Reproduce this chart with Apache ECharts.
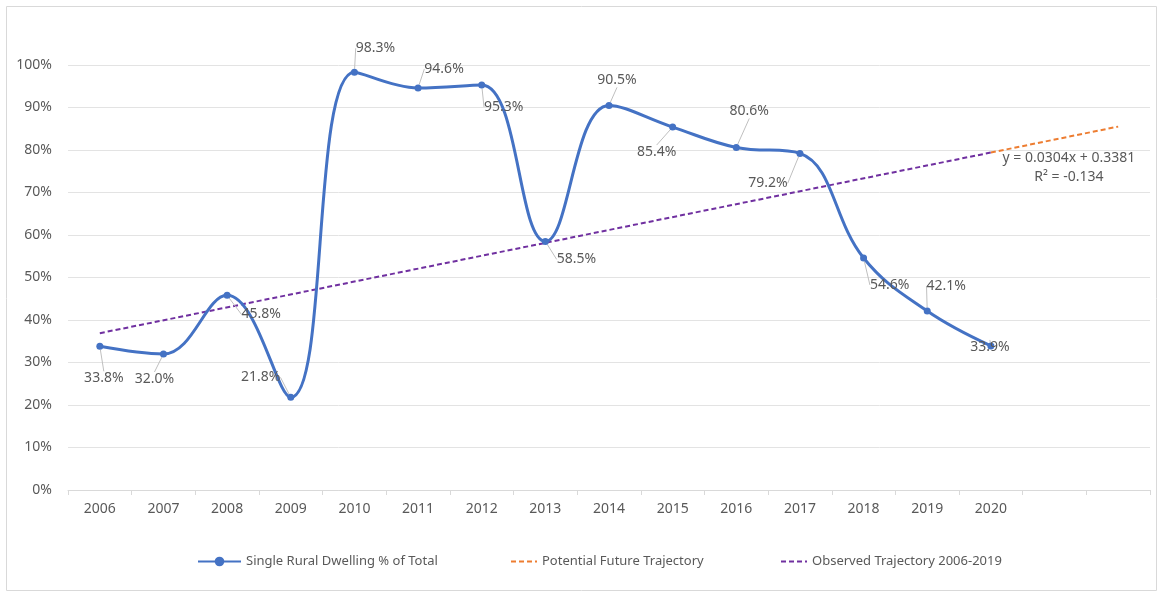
<!DOCTYPE html>
<html>
<head>
<meta charset="utf-8">
<script src="https://cdn.jsdelivr.net/npm/echarts@6/dist/echarts.min.js"></script>
<style>
  html, body { margin: 0; padding: 0; background: #fff; }
  #main { width: 1162px; height: 594px; }
</style>
</head>
<body>
<div id="main"></div>
<script>
// data
const years = ['2006', '2007', '2008', '2009', '2010', '2011', '2012', '2013', '2014',
    '2015', '2016', '2017', '2018', '2019', '2020', '', ' '];
const singleRural = [33.8, 32.0, 45.8, 21.8, 98.3, 94.6, 95.3, 58.5, 90.5, 85.4, 80.6, 79.2, 54.6, 42.1, 33.9];
// trendline end points (y = 0.0304x + 0.3381)
const observedTrend = [['2006', 36.9], ['2020', 79.4]];
const futureTrend = [['2020', 79.4], [' ', 85.5]];
const yTicks = [0, 10, 20, 30, 40, 50, 60, 70, 80, 90, 100];
const trendText = 'y = 0.0304x + 0.3381\nR² = -0.134';

// label nudges (px) so they sit like the original
const labelShift = [
    [4, 32], [-9, 25], [34, 19], [-30, -20], [21, -24], [26, -19], [22, 22], [31, 18],
    [8, -25], [-16, 25], [13, -36], [-32, 30], [26, 27], [19, -25], [-1, 1]
];

const font = '"Noto Sans", "Open Sans", sans-serif';
const grey = '#595959';
const legendText = { color: grey, fontSize: 13, fontFamily: font };

const chart = echarts.init(document.getElementById('main'));
chart.setOption({
    animation: false,
    textStyle: { fontFamily: font },
    graphic: [{
        type: 'rect',
        shape: { x: 6.5, y: 6.5, width: 1150, height: 584 },
        style: { fill: 'none', stroke: '#d9d9d9', lineWidth: 1 },
        silent: true
    }],
    grid: { left: 68, right: 12, top: 65, bottom: 104 },
    legend: [
        {
            left: 197, top: 555, padding: 0, itemGap: 4, itemWidth: 43, itemHeight: 12,
            textStyle: legendText,
            data: ['Single Rural Dwelling % of Total']
        },
        {
            left: 510, top: 555, padding: 0, itemWidth: 26, itemHeight: 12,
            textStyle: legendText,
            itemStyle: { opacity: 0 },
            data: ['Potential Future Trajectory']
        },
        {
            left: 780, top: 555, padding: 0, itemWidth: 26, itemHeight: 12,
            textStyle: legendText,
            itemStyle: { opacity: 0 },
            data: ['Observed Trajectory 2006-2019']
        }
    ],
    xAxis: {
        type: 'category',
        data: years,
        boundaryGap: true,
        axisLine: { lineStyle: { color: '#d9d9d9' } },
        axisTick: { show: true, length: 5, lineStyle: { color: '#d9d9d9' } },
        axisLabel: { color: grey, fontSize: 14, margin: 12, fontFamily: font }
    },
    yAxis: {
        type: 'value',
        min: yTicks[0],
        max: yTicks[yTicks.length - 1],
        interval: 10,
        axisLine: { show: false },
        axisTick: { show: false },
        splitLine: { lineStyle: { color: '#e3e3e3' } },
        axisLabel: { color: grey, fontSize: 14, margin: 16, formatter: '{value}%', fontFamily: font }
    },
    series: [
        {
            name: 'Single Rural Dwelling % of Total',
            type: 'line',
            data: singleRural,
            smooth: 0.4,
            clip: false,
            z: 3,
            symbol: 'circle',
            symbolSize: 7,
            color: '#4472c4',
            lineStyle: { width: 3, color: '#4472c4' },
            itemStyle: { color: '#4472c4' },
            label: {
                show: true,
                position: 'inside',
                color: grey,
                fontSize: 14,
                fontFamily: font,
                formatter: p => p.value.toFixed(1) + '%'
            },
            labelLine: { show: true, lineStyle: { color: '#bfbfbf', width: 1 } },
            labelLayout: p => ({ dx: labelShift[p.dataIndex][0], dy: labelShift[p.dataIndex][1] })
        },
        {
            name: 'Potential Future Trajectory',
            type: 'line',
            data: futureTrend,
            symbol: 'none',
            z: 2,
            color: '#ed7d31',
            lineStyle: { width: 2, type: [5, 3], color: '#ed7d31' },
            markPoint: {
                symbol: 'circle',
                symbolSize: 1,
                itemStyle: { color: 'rgba(0,0,0,0)' },
                label: {
                    show: true,
                    position: 'inside',
                    offset: [78, 15],
                    color: grey,
                    fontSize: 14,
                    fontFamily: font,
                    lineHeight: 19,
                    align: 'center',
                    formatter: trendText
                },
                data: [{ coord: futureTrend[0] }]
            }
        },
        {
            name: 'Observed Trajectory 2006-2019',
            type: 'line',
            data: observedTrend,
            symbol: 'none',
            z: 2,
            color: '#7030a0',
            lineStyle: { width: 2, type: [5, 3], color: '#7030a0' }
        }
    ]
});
</script>
</body>
</html>
